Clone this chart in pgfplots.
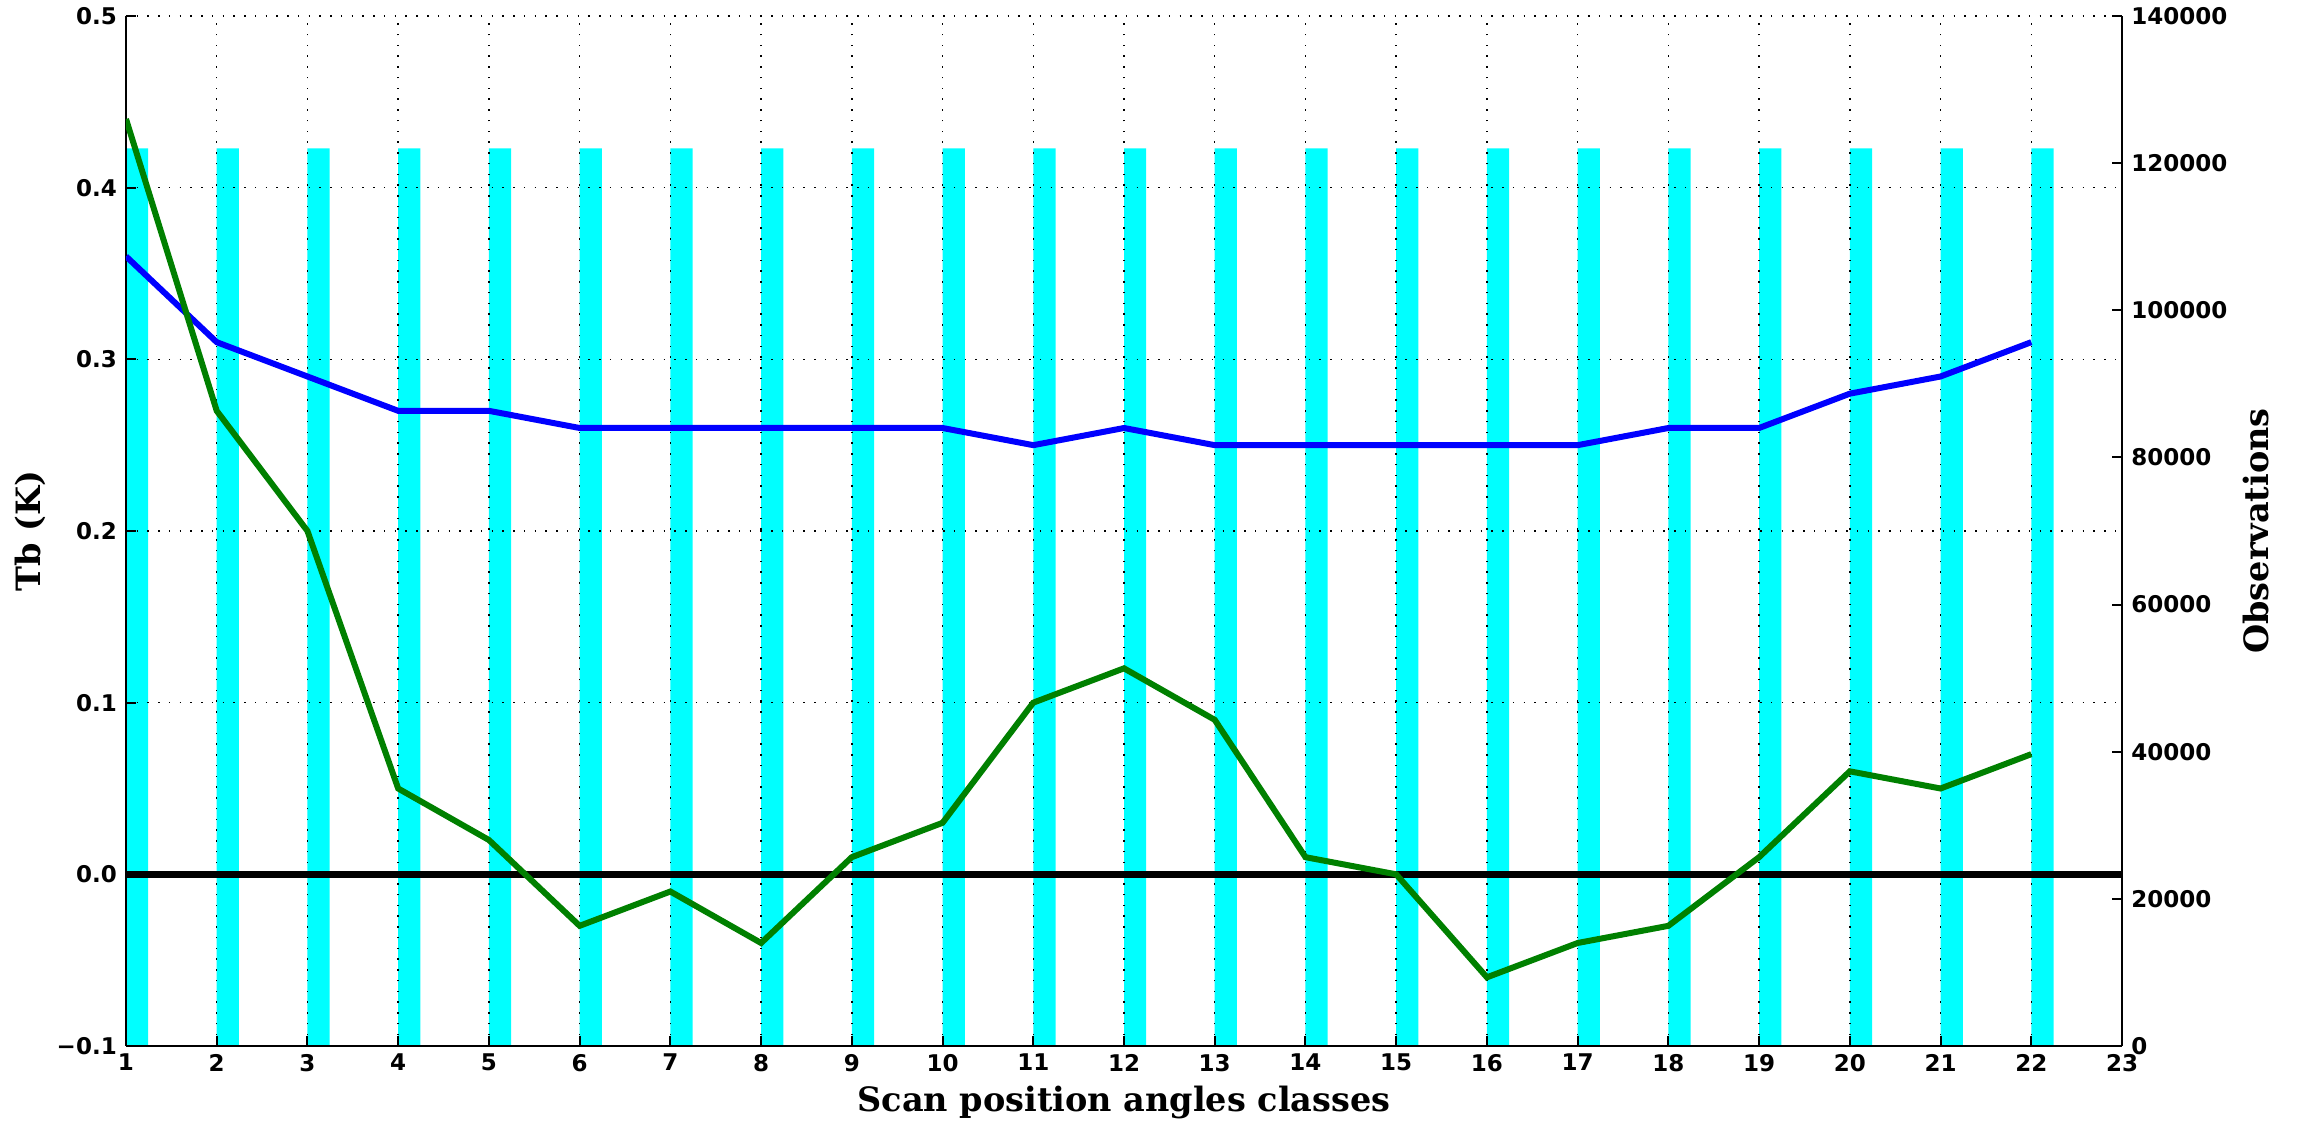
\documentclass[border=0pt]{standalone}
\usepackage{fontspec}
\setmainfont{DejaVu Serif}
\newfontfamily\tickfont{DejaVu Sans}
\usepackage{pgfplots}
\pgfplotsset{compat=1.18}
\definecolor{mplgreen}{rgb}{0,0.5,0}
\definecolor{mplcyan}{rgb}{0,1,1}
\definecolor{mplblue}{rgb}{0,0,1}
\begin{document}
\begin{tikzpicture}
\path[use as bounding box] (-50.4pt,-31.2pt) rectangle (868.4pt,418.4pt);
\pgfplotsset{
  common/.style={
    scale only axis, width=798.4pt, height=412pt,
    xmin=1, xmax=23,
    tick align=inside, major tick length=4pt,
    axis line style={-, line width=0.9pt},
    every tick/.style={black, line width=0.8pt},
    tick label style={font=\tickfont\bfseries\fontsize{9.2}{11}\selectfont, inner sep=2pt},
    label style={font=\bfseries\fontsize{13.4}{16}\selectfont},
  }
}
% bars on right axis
\begin{axis}[common,
  ymin=0, ymax=140000,
  axis y line*=right, axis x line=none,
  ytick={0,20000,40000,60000,80000,100000,120000,140000},
  yticklabels={0,20000,40000,60000,80000,100000,120000,140000},
  yticklabel style={xshift=1.5pt},
  ylabel={Observations},
  ylabel style={at={(axis description cs:1.0671,0.5)}, anchor=center, rotate=0},
]
\addplot[ybar, fill=mplcyan, draw=none, bar width=0.245, bar shift=0.1225] coordinates {
(1,122000) (2,122000) (3,122000) (4,122000) (5,122000) (6,122000)
(7,122000) (8,122000) (9,122000) (10,122000) (11,122000) (12,122000)
(13,122000) (14,122000) (15,122000) (16,122000) (17,122000) (18,122000)
(19,122000) (20,122000) (21,122000) (22,122000)};
\end{axis}
% lines on left axis
\begin{axis}[common,
  ymin=-0.1, ymax=0.5,
  axis y line*=left, axis x line*=bottom,
  xtick={1,2,...,23},
  xticklabels={1,2,3,4,5,6,7,8,9,10,11,12,13,14,15,16,17,18,19,20,21,22,23},
  xticklabel style={yshift=-1pt},
  ytick={-0.1,0,0.1,0.2,0.3,0.4,0.5},
  yticklabels={−0.1,0.0,0.1,0.2,0.3,0.4,0.5},
  yticklabel style={xshift=-1.5pt},
  grid=major,
  major grid style={black, line width=0.6pt, dash pattern=on 0.6pt off 3.7pt},
  xlabel={Scan position angles classes},
  xlabel style={at={(axis description cs:0.5,-0.0553)}, anchor=center},
  ylabel={Tb (K)},
  ylabel style={at={(axis description cs:-0.0481,0.5)}, anchor=center},
]
\addplot[black, line width=2.8pt] coordinates {(1,0) (23,0)};
\addplot[mplblue, line width=2.4pt] coordinates {
(1,0.36) (2,0.31) (3,0.29) (4,0.27) (5,0.27) (6,0.26) (7,0.26) (8,0.26)
(9,0.26) (10,0.26) (11,0.25) (12,0.26) (13,0.25) (14,0.25) (15,0.25)
(16,0.25) (17,0.25) (18,0.26) (19,0.26) (20,0.28) (21,0.29) (22,0.31)};
\addplot[mplgreen, line width=2.4pt] coordinates {
(1,0.44) (2,0.27) (3,0.20) (4,0.05) (5,0.02) (6,-0.03) (7,-0.01) (8,-0.04)
(9,0.01) (10,0.03) (11,0.10) (12,0.12) (13,0.09) (14,0.01) (15,0.00)
(16,-0.06) (17,-0.04) (18,-0.03) (19,0.01) (20,0.06) (21,0.05) (22,0.07)};
\end{axis}
\end{tikzpicture}
\end{document}
